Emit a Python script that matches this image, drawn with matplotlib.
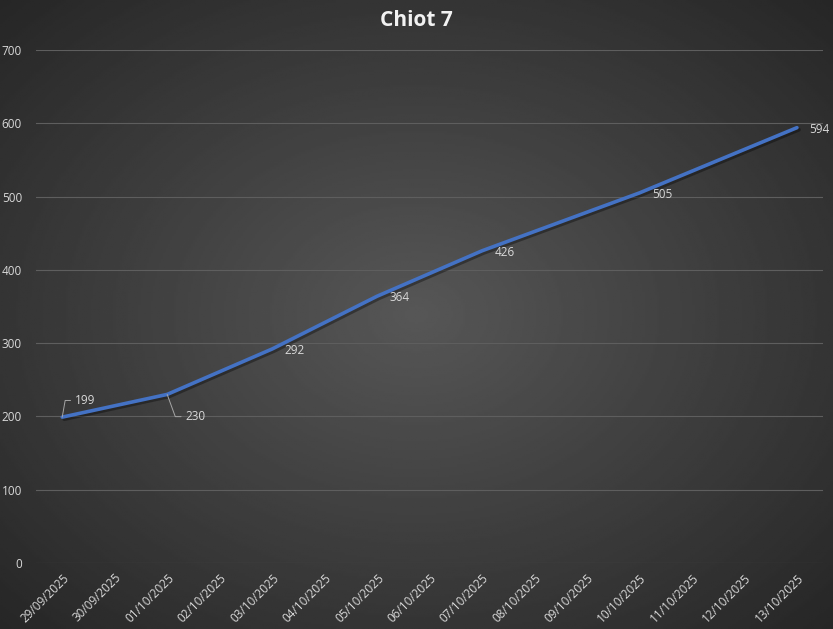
import matplotlib
matplotlib.use("Agg")
import matplotlib.pyplot as plt
import matplotlib.patheffects as pe
import numpy as np

# categories: every day shown on the axis
dates = ["29/09/2025", "30/09/2025", "01/10/2025", "02/10/2025", "03/10/2025",
         "04/10/2025", "05/10/2025", "06/10/2025", "07/10/2025", "08/10/2025",
         "09/10/2025", "10/10/2025", "11/10/2025", "12/10/2025", "13/10/2025"]
# weighings (only some days)
weigh_dates = ["29/09/2025", "01/10/2025", "03/10/2025", "05/10/2025",
               "07/10/2025", "10/10/2025", "13/10/2025"]
weights = [199, 230, 292, 364, 426, 505, 594]

plt.rcParams['font.family'] = ['Open Sans', 'DejaVu Sans']
txt = '#d9d9d9'

fig = plt.figure(figsize=(8.33, 6.29), dpi=100)

# radial gradient background
bg = fig.add_axes([0, 0, 1, 1], zorder=-10)
yy, xx = np.mgrid[-1:1:300j, -1:1:400j]
r = np.sqrt(xx**2 + yy**2) / np.sqrt(2)
bg.imshow(0.34 - 0.19 * r, cmap='gray', vmin=0, vmax=1, aspect='auto',
          extent=[0, 1, 0, 1])
bg.axis('off')

ax = fig.add_axes([0.0432, 0.105, 0.945, 0.8155])
ax.patch.set_alpha(0)

x = [dates.index(d) for d in weigh_dates]
ax.plot(x, weights, color='#4472c4', lw=2.6, solid_capstyle='round',
        path_effects=[pe.SimpleLineShadow(offset=(1.5, -1.5), alpha=0.35),
                      pe.Normal()], zorder=3)

for xi, w in zip(x, weights):
    if w == 199:
        ax.annotate(str(w), (xi, w), xytext=(9, 12), textcoords='offset points',
                    color=txt, fontsize=8.5, va='center',
                    arrowprops=dict(arrowstyle='-', color='#a6a6a6', lw=0.7,
                                    connectionstyle='angle,angleA=0,angleB=80,rad=0',
                                    shrinkA=1, shrinkB=0))
    elif w == 230:
        ax.annotate(str(w), (xi, w), xytext=(13, -16), textcoords='offset points',
                    color=txt, fontsize=8.5, va='center',
                    arrowprops=dict(arrowstyle='-', color='#a6a6a6', lw=0.7,
                                    connectionstyle='angle,angleA=0,angleB=-70,rad=0',
                                    shrinkA=1, shrinkB=0))
    else:
        ax.annotate(str(w), (xi, w), xytext=(9, -1), textcoords='offset points',
                    color=txt, fontsize=8.5, va='center', ha='left')

ax.set_xlim(-0.5, len(dates) - 0.5)
ax.set_ylim(0, 700)
ax.set_yticks(range(0, 701, 100))
ax.set_xticks(range(len(dates)))
ax.set_xticklabels(dates, rotation=45, ha='right', rotation_mode='anchor')
ax.tick_params(colors=txt, labelsize=8.5, length=0, pad=6)
ax.tick_params(axis='y', pad=10)
ax.grid(axis='y', color='#5e5e5e', lw=0.8)
for s in ax.spines.values():
    s.set_visible(False)

fig.text(0.5, 0.968, "Chiot 7", ha='center', va='center', color='#f2f2f2',
         fontsize=15, fontweight='bold')

fig.savefig("out.png", dpi=100)
